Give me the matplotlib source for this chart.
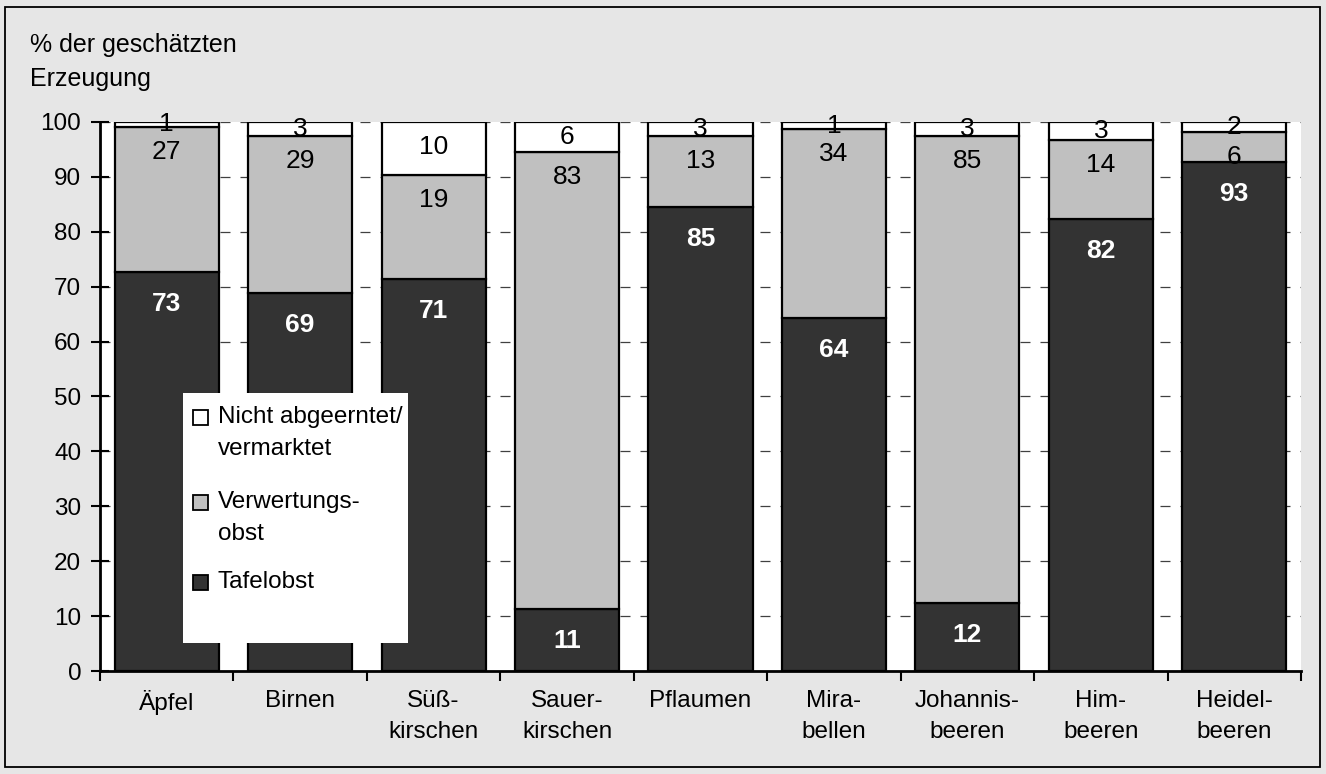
import matplotlib
matplotlib.use("Agg")
import matplotlib.pyplot as plt
from matplotlib.patches import Rectangle
import numpy as np

plt.rcParams['font.family'] = ['Liberation Sans', 'DejaVu Sans']

categories = ["Äpfel", "Birnen", "Süß-\nkirschen", "Sauer-\nkirschen", "Pflaumen",
              "Mira-\nbellen", "Johannis-\nbeeren", "Him-\nbeeren", "Heidel-\nbeeren"]
tafelobst = [72.6, 68.9, 71.4, 11.3, 84.5, 64.3, 12.4, 82.4, 92.7]
verwertung = [26.5, 28.6, 18.9, 83.2, 12.9, 34.4, 85.0, 14.3, 5.5]
nicht = [0.9, 2.5, 9.7, 5.5, 2.6, 1.3, 2.6, 3.3, 1.8]
tafel_labels = [73, 69, 71, 11, 85, 64, 12, 82, 93]
verw_labels = [27, 29, 19, 83, 13, 34, 85, 14, 6]
nicht_labels = [1, 3, 10, 6, 3, 1, 3, 3, 2]
series_names = ["Nicht abgeerntet/\nvermarktet", "Verwertungs-\nobst", "Tafelobst"]
yticks = [0, 10, 20, 30, 40, 50, 60, 70, 80, 90, 100]

c_dark = "#333333"
c_grey = "#C0C0C0"
c_white = "#FFFFFF"
bg = "#E6E6E6"

W, H = 1326, 774
fig = plt.figure(figsize=(W / 100, H / 100), dpi=100, facecolor=bg)
ax = fig.add_axes([100 / W, 1 - 671 / H, 1201 / W, 549 / H])
ax.set_facecolor("white")

x = np.arange(len(categories))
bw = 0.78
t = np.array(tafelobst)
v = np.array(verwertung)
n = np.array(nicht)
kw = dict(width=bw, edgecolor="black", linewidth=1.6, zorder=3)
b1 = ax.bar(x, t, color=c_dark, **kw)
b2 = ax.bar(x, v, bottom=t, color=c_grey, **kw)
b3 = ax.bar(x, n, bottom=t + v, color=c_white, **kw)

ax.set_xlim(-0.5, len(categories) - 0.5)
ax.set_ylim(0, 100)

# grid
for yv in yticks[1:]:
    ax.axhline(yv, color="#404040", linewidth=0.9, linestyle=(0, (8, 8)), zorder=1)

for s in ["top", "right"]:
    ax.spines[s].set_visible(False)
for s in ["left", "bottom"]:
    ax.spines[s].set_linewidth(2)
    ax.spines[s].set_zorder(5)

tick_fs = 17.5
ax.set_yticks(yticks)
ax.set_yticklabels([str(y) for y in yticks], fontsize=tick_fs)
ax.tick_params(axis="y", direction="inout", length=13, width=1.5, pad=7)
ax.set_xticks(x)
ax.set_xticklabels(categories, fontsize=tick_fs, linespacing=1.5)
ax.tick_params(axis="x", which="major", length=0, pad=14)
ax.set_xticks(np.arange(-0.5, len(categories)), minor=True)
ax.tick_params(axis="x", which="minor", direction="out", length=7, width=1.5)

lab_fs = 19


def place(xi, top, bottom, label, color, weight, off, center_small):
    h = top - bottom
    if center_small and h < 9:
        ax.text(xi, (top + bottom) / 2, str(label), ha="center", va="center",
                fontsize=lab_fs, color=color, fontweight=weight, zorder=6)
    else:
        ax.annotate(str(label), (xi, top), xytext=(0, -off), textcoords="offset points",
                    ha="center", va="center", fontsize=lab_fs, color=color,
                    fontweight=weight, zorder=6)


for i in range(len(categories)):
    place(x[i], t[i], 0, tafel_labels[i], "white", "bold", 23, False)
    place(x[i], t[i] + v[i], t[i], verw_labels[i], "black", "normal", 18, False)
    place(x[i], t[i] + v[i] + n[i], t[i] + v[i], nicht_labels[i], "black", "normal", 18, True)


# legend box (manual)
def ax_frac(px, py):
    return ((px - 100) / 1201, (671 - py) / 549)


lx0, ly0 = ax_frac(183, 643)
lx1, ly1 = ax_frac(408, 393)
ax.add_patch(Rectangle((lx0, ly0), lx1 - lx0, ly1 - ly0, transform=ax.transAxes,
                       facecolor="white", edgecolor="none", zorder=7))
entries = [(series_names[0], c_white, 423), (series_names[1], c_grey, 508),
           (series_names[2], c_dark, 588)]
for name, col, base in entries:
    mx, my = ax_frac(193, base + 2)
    ax.add_patch(Rectangle((mx, my), 15 / 1201, 15 / 549, transform=ax.transAxes,
                           facecolor=col, edgecolor="black", linewidth=1.3, zorder=8))
    for k, line in enumerate(name.split("\n")):
        tx, ty = ax_frac(218, base + 32 * k)
        ax.text(tx, ty, line, transform=ax.transAxes, ha="left", va="baseline",
                fontsize=17.5, zorder=9)

# y-axis title
fig.text(30 / W, 1 - 52 / H, "% der geschätzten", fontsize=18, ha="left", va="baseline")
fig.text(30 / W, 1 - 86 / H, "Erzeugung", fontsize=18, ha="left", va="baseline")

# figure border
fig.patches.append(Rectangle((5 / W, 1 - 767 / H), 1315 / W, 760 / H, transform=fig.transFigure,
                             facecolor="none", edgecolor="black", linewidth=1.3))

fig.savefig("out.png", dpi=100, facecolor=bg)
